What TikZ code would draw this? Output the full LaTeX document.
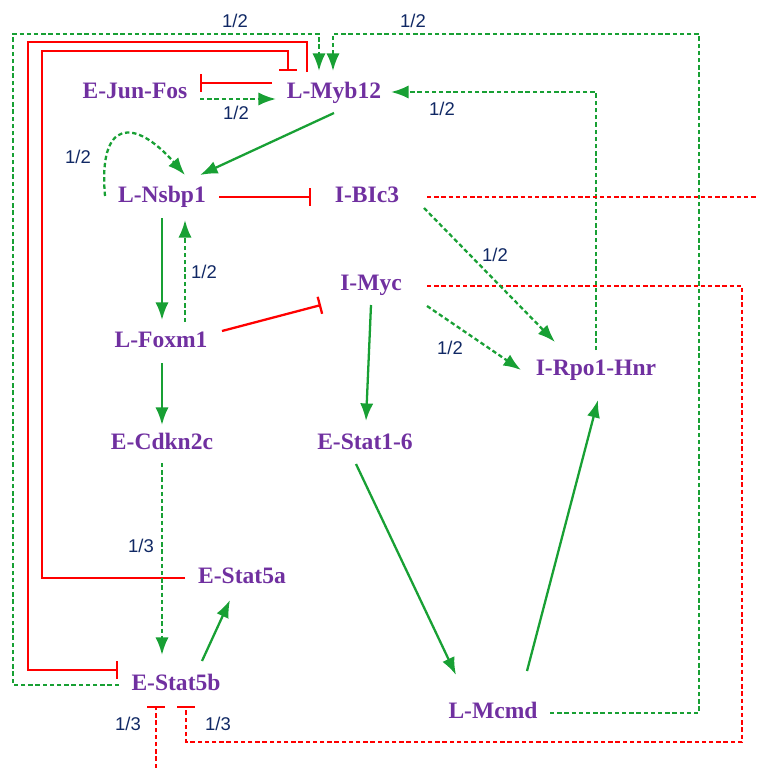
\documentclass[tikz,border=0pt]{standalone}
\usepackage{fontspec}
\setmainfont{Liberation Serif}
\newfontfamily\labfont{Liberation Sans}
\usetikzlibrary{arrows.meta,calc}
\definecolor{gn}{RGB}{24,160,52}
\definecolor{pu}{RGB}{112,48,160}
\definecolor{nv}{RGB}{16,40,100}
\definecolor{rd}{RGB}{255,0,0}
\begin{document}
\begin{tikzpicture}[x=0.02cm,y=-0.02cm,
  gene/.style={font=\fontsize{13.4}{13.4}\selectfont\bfseries, text=pu, inner sep=0pt, text height=0.66em, text depth=0pt},
  lab/.style={font=\labfont\fontsize{10.5}{10.5}\selectfont, text=nv, inner sep=0pt},
  act/.style={draw=gn, line width=1.3pt, -{Latex[length=10pt,width=7.5pt]}},
  actd/.style={act, dash pattern=on 2.5pt off 1.6pt},
  inh/.style={draw=rd, line width=1.3pt, -{Bar[width=10pt]}},
  inhd/.style={inh, dash pattern=on 2.5pt off 1.6pt},
  plaind/.style={draw=rd, line width=1.3pt, dash pattern=on 2.5pt off 1.6pt}]
\useasboundingbox (0,0) rectangle (758,768);
% genes
\node[gene] (jun) at (135,93) {E-Jun-Fos};
\node[gene] (myb) at (334,93) {L-Myb12};
\node[gene] (nsb) at (162,197) {L-Nsbp1};
\node[gene] (bic) at (367,197) {I-BIc3};
\node[gene] (myc) at (371,285) {I-Myc};
\node[gene] (fox) at (161,342) {L-Foxm1};
\node[gene] (rpo) at (596,370) {I-Rpo1-Hnr};
\node[gene] (cdk) at (162,444) {E-Cdkn2c};
\node[gene] (st16) at (365,444) {E-Stat1-6};
\node[gene] (st5a) at (242,578) {E-Stat5a};
\node[gene] (st5b) at (176,685) {E-Stat5b};
\node[gene] (mcm) at (493,713) {L-Mcmd};
\coordinate (bicend) at (758,197);
\coordinate (botend) at (156,768);
% labels
\node[lab] (l1) at (236,113) {1/2};
\node[lab] (l2) at (235,21) {1/2};
\node[lab] (l3) at (413,21) {1/2};
\node[lab] (l4) at (442,109) {1/2};
\node[lab] (l5) at (78,157) {1/2};
\node[lab] (l6) at (204,272) {1/2};
\node[lab] (l7) at (495,255) {1/2};
\node[lab] (l8) at (450,348) {1/2};
\node[lab] (l9) at (141,546) {1/3};
\node[lab] (l10) at (128,724) {1/3};
\node[lab] (l11) at (218,724) {1/3};
% edges
\draw[inh] ($(myb)+(-62,-10)$) -- ($(jun)+(65,-10)$);
\draw[actd] ($(jun)+(65,6)$) -- ($(myb)+(-58,6)$);
\draw[inh] ($(myb)+(-27,-21)$) |- (28,42) |- ($(st5b)+(-58,-15)$);
\draw[inh] ($(st5a)+(-57,0)$) -| (42,51) -| ($(myb)+(-46,-22)$);
\draw[actd] ($(st5b)+(-57,0)$) -| (13,34) -| ($(myb)+(-15,-22)$);
\draw[actd] ($(mcm)+(57,0)$) -| (699,34) -| ($(myb)+(-1,-22)$);
\draw[actd] ($(rpo)+(0,-20)$) |- ($(myb)+(57,-1)$);
\draw[act] ($(myb)+(0,20)$) -- ($(nsb)+(38,-22)$);
\draw[actd] ($(nsb)+(-57,-1)$) .. controls (98,118) and (135,118) .. ($(nsb)+(23,-22)$);
\draw[inh] ($(nsb)+(57,0)$) -- ($(bic)+(-56,0)$);
\draw[act] ($(nsb)+(0,21)$) -- ($(fox)+(1,-22)$);
\draw[actd] ($(fox)+(24,-20)$) -- ($(nsb)+(23,23)$);
\draw[inh] ($(fox)+(61,-11)$) -- ($(myc)+(-50,20)$);
\draw[plaind] ($(bic)+(60,0)$) -- (bicend);
\draw[inhd] ($(myc)+(56,1)$) -| (742,742) -| ($(st5b)+(10,21)$);
\draw[inhd] (botend) -- ($(st5b)+(-20,21)$);
\draw[actd] ($(bic)+(57,11)$) -- ($(rpo)+(-41,-28)$);
\draw[actd] ($(myc)+(56,21)$) -- ($(rpo)+(-75,0)$);
\draw[act] ($(myc)+(0,20)$) -- ($(st16)+(1,-23)$);
\draw[act] ($(fox)+(1,21)$) -- ($(cdk)+(0,-19)$);
\draw[actd] ($(cdk)+(0,19)$) -- ($(st5b)+(-14,-30)$);
\draw[act] ($(st5b)+(26,-24)$) -- ($(st5a)+(-12,22)$);
\draw[act] ($(st16)+(-9,20)$) -- ($(mcm)+(-37,-38)$);
\draw[act] ($(mcm)+(34,-42)$) -- ($(rpo)+(2,30)$);
\end{tikzpicture}
\end{document}
